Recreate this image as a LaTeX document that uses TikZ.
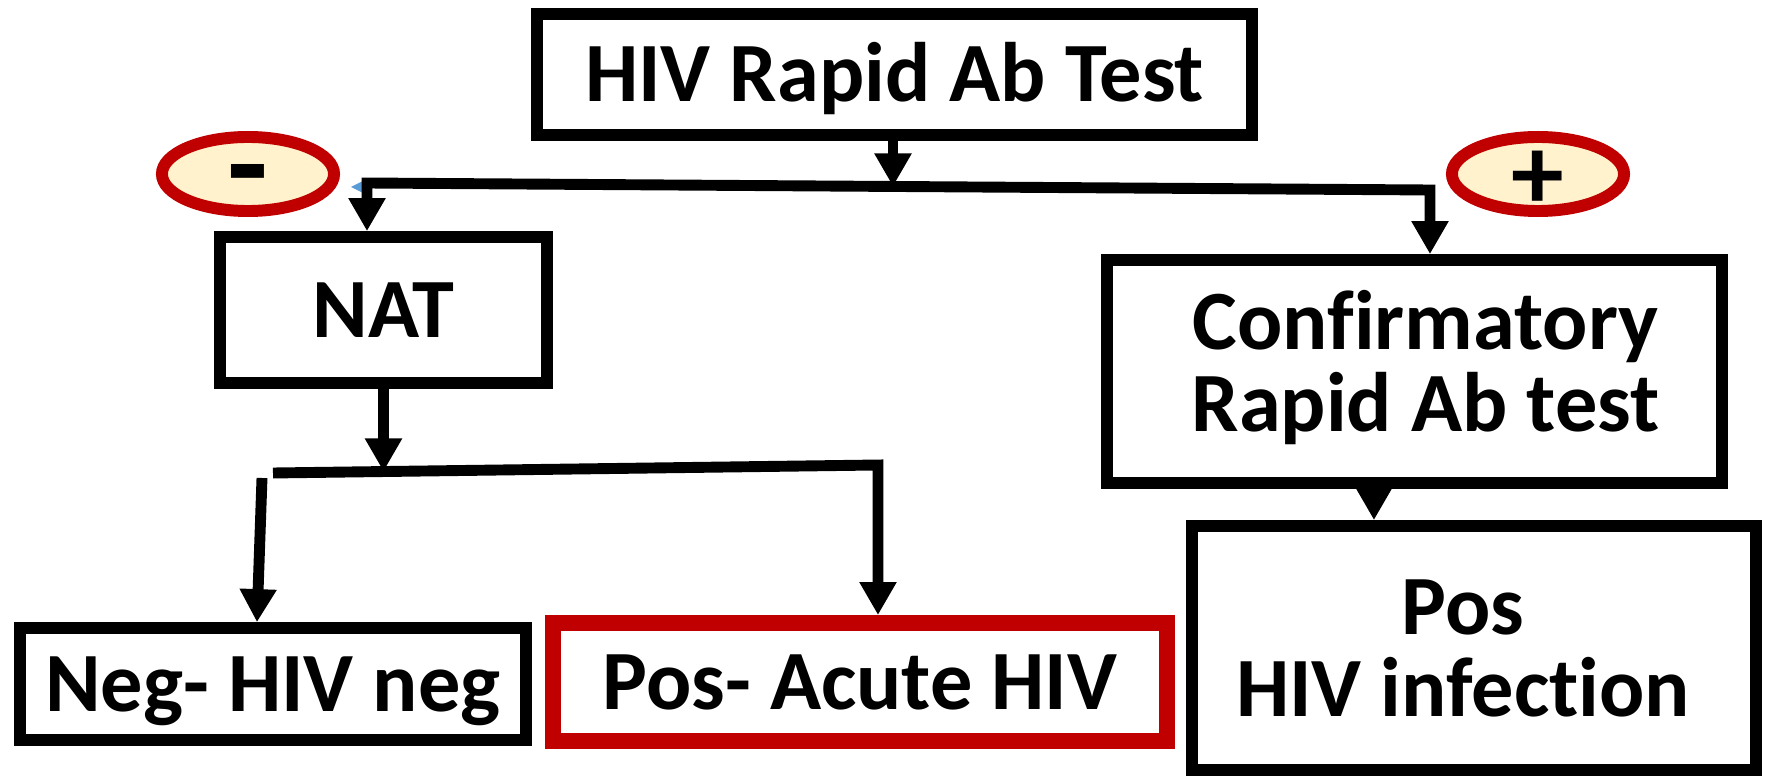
\documentclass[tikz,border=0pt]{standalone}
\usepackage{fontspec}
\setmainfont{Carlito}[Ligatures=NoCommon]
\usepackage{tikz}
\usetikzlibrary{shapes,arrows.meta,calc}
\definecolor{darkred}{HTML}{C00000}
\definecolor{cream}{HTML}{FFF2CC}
\definecolor{lightblue}{HTML}{5B9BD5}
\newcommand{\signnode}[4]{
  \node[sign] (#1) at (#2) {};
  \node[signtext, font=\fontsize{#3}{#3}\selectfont\bfseries] (#1txt) at (#1) {#4};
}
\tikzset{
  box/.style      = {draw, rectangle, line width=3.3pt, inner sep=0pt,
                     align=center, font=\fontsize{24}{23.3}\selectfont\bfseries,
                     text height=0.545cm, text depth=0pt},
  twoline/.style  = {text height=1.367cm, text depth=0pt},
  sign/.style     = {draw=darkred, fill=cream, ellipse, line width=3.4pt,
                     minimum width=1.72cm, minimum height=0.74cm, inner sep=0pt},
  signtext/.style = {inner sep=0pt, text height=0.7cm, text depth=0pt},
  wire/.style     = {line width=3.1pt, line join=miter},
  >={Triangle[width=0.35cm,length=0.33cm]}
}

\begin{document}
\begin{tikzpicture}[x=0.01cm, y=-0.01cm]
	\useasboundingbox (0,0) rectangle (1765,776);
	\node[box, minimum width=7.15cm, minimum height=1.21cm] (rapid) at (894.5,74.5) {HIV Rapid Ab Test};
	\node[box, minimum width=3.27cm, minimum height=1.46cm] (nat) at (383.5,310) {NAT};
	\node[box, twoline, text depth=0.16cm, minimum width=6.15cm, minimum height=2.23cm] (confirm) at (1414.5,371.5) {\kern0.22cm Confirmatory\\\kern0.22cm Rapid Ab test};
	\node[box, twoline, minimum width=5.64cm, minimum height=2.44cm] (posinf) at (1474,648) {Pos\kern0.22cm\\HIV infection\kern0.22cm};
	\node[box, minimum width=5.06cm, minimum height=1.12cm] (neg) at (273,684) {Neg- HIV neg};
	\node[box, draw=darkred, line width=4.5pt, minimum width=6.14cm, minimum height=1.18cm] (acute) at (860,682) {Pos- Acute HIV};
	\signnode{minus}{248,174}{38}{-}
	\signnode{plus}{1538,174}{30}{+}
	% first split
	\coordinate (jl) at (367,183);
	\coordinate (jr) at (1430,190);
	\coordinate (jt) at (893,186.5);
	\fill[lightblue] (351,187) -- (363,181) -- (363,193) -- cycle;
	\draw[wire,<->] (jl |- nat.north) -- (jl) -- (jr) -- (jr |- confirm.north);
	\draw[wire,->] (rapid.south -| jt) -- (jt);
	\draw[wire,->] ([xshift=-0.405cm]confirm.south) -- ([xshift=-0.405cm]confirm.south |- posinf.north);
	% second split
	\coordinate (ka) at (273,473);
	\coordinate (kb) at (878,465);
	\coordinate (kn) at (383.5,471.5);
	\coordinate (kl) at (262,478);
	\draw[wire,->] (nat.south) -- (kn);
	\draw[wire,->] (ka) -- (kb) -- (kb |- acute.north);
	\draw[wire,->] (kl) -- ([xshift=-0.16cm]neg.north);
\end{tikzpicture}
\end{document}
